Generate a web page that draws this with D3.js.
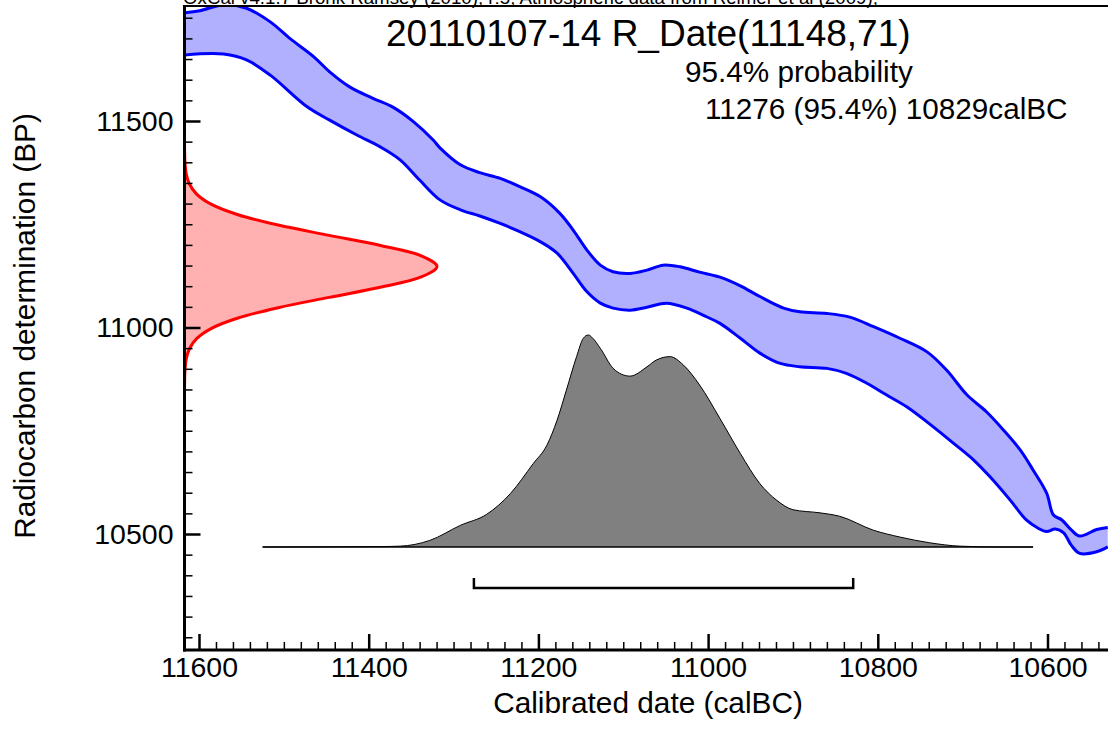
<!DOCTYPE html>
<html><head><meta charset="utf-8">
<script src="https://cdn.jsdelivr.net/npm/d3@7"></script>
<style>
body{margin:0;background:#fff}
svg{display:block}
text{font-family:"Liberation Sans",Arial,Helvetica,sans-serif;fill:#000}
</style>
</head><body>
<svg id="chart" width="1108" height="753"></svg>
<script>
// ---------- texts ----------
const headerText = "OxCal v4.1.7 Bronk Ramsey (2010); r:5; Atmospheric data from Reimer et al (2009);";
const titleText = "20110107-14 R_Date(11148,71)";
const probLabel = "95.4% probability";
const rangeLabel = "11276 (95.4%) 10829calBC";
const xAxisLabel = "Calibrated date (calBC)";
const yAxisLabel = "Radiocarbon determination (BP)";

// ---------- ticks ----------
const xTicks = [11600, 11400, 11200, 11000, 10800, 10600];
const yTicks = [10500, 11000, 11500];

// ---------- 95.4% range (calBC) ----------
const range95 = [11276, 10829];

// ---------- calibration curve band (upper / lower edge) ----------
const curveUpperYear = [11617,11599,11572,11544,11516,11493,11465,11446,11422,11395,11371,11347,11324,11316,11292,11269,11245,11222,11198,11175,11159,11143,11127,11112,11092,11072,11053,11033,11010,10986,10962,10939,10911,10892,10860,10833,10805,10774,10742,10719,10695,10672,10652,10632,10617,10601,10593,10583,10572,10562,10542,10529];
const curveUpperBP   = [11762,11767,11781,11773,11740,11700,11656,11619,11582,11555,11533,11498,11454,11435,11394,11375,11361,11341,11317,11277,11236,11188,11151,11135,11131,11139,11151,11147,11134,11122,11101,11075,11047,11038,11034,11025,11002,10974,10941,10897,10837,10796,10752,10703,10655,10599,10546,10534,10510,10495,10511,10516];
const curveLowerYear = [11617,11571,11544,11516,11473,11446,11414,11387,11363,11340,11316,11292,11269,11245,11222,11198,11178,11159,11143,11127,11112,11092,11072,11049,11025,11002,10986,10962,10939,10915,10892,10860,10837,10813,10790,10766,10735,10711,10687,10668,10644,10625,10611,10601,10591,10581,10572,10562,10542,10529];
const curveLowerBP   = [11660,11662,11648,11611,11535,11502,11466,11438,11406,11357,11309,11285,11270,11252,11232,11208,11180,11131,11087,11059,11047,11042,11049,11059,11047,11026,11010,10974,10938,10913,10905,10901,10889,10865,10837,10808,10760,10720,10679,10639,10582,10534,10514,10506,10512,10503,10473,10453,10457,10469];

// ---------- radiocarbon measurement distribution (BP, relative density) ----------
const radioBP   = [11448,11423,11398,11373,11348,11323,11298,11273,11248,11223,11198,11173,11148,11123,11098,11073,11048,11023,10998,10973,10948,10923,10898,10873,10848];
const radioDens = [0.0001,0.0006,0.002,0.0066,0.019,0.048,0.107,0.212,0.371,0.573,0.780,0.940,1.0,0.940,0.780,0.573,0.371,0.212,0.107,0.048,0.019,0.0066,0.002,0.0006,0.0001];

// ---------- calibrated distribution (calBC, relative probability) ----------
const calYear = [11525,11387,11363,11328,11292,11261,11233,11206,11190,11178,11167,11155,11147,11141,11136,11127,11112,11102,11092,11072,11061,11045,11029,11010,10986,10962,10939,10919,10900,10868,10845,10805,10774,10739,10703,10656,10617];
const calProb = [0,0.002,0.004,0.031,0.102,0.154,0.252,0.394,0.480,0.598,0.740,0.898,0.985,1.0,0.985,0.937,0.843,0.815,0.806,0.850,0.882,0.898,0.858,0.764,0.606,0.441,0.299,0.220,0.176,0.161,0.145,0.079,0.047,0.020,0.004,0,0];

// ---------- layout ----------
const W = 1108, H = 753;
const plotLeft = 184.5, plotTop = 6, plotBottom = 650, plotRight = 1120;

const svg = d3.select("#chart");

const x = d3.scaleLinear().domain([11600, 10600]).range([199, 1047.5]);
const y = d3.scaleLinear().domain([11500, 10500]).range([121, 534]);
const pScale = d3.scaleLinear().domain([0, 1]).range([547, 335]);
const rScale = d3.scaleLinear().domain([0, 1]).range([plotLeft, 437]);

svg.append("defs").append("clipPath").attr("id", "clip")
  .append("rect").attr("x", plotLeft).attr("y", plotTop)
  .attr("width", plotRight - plotLeft).attr("height", plotBottom - plotTop);

const g = svg.append("g").attr("clip-path", "url(#clip)");

// calibration band
const upper = curveUpperYear.map((d, i) => [d, curveUpperBP[i]]);
const lower = curveLowerYear.map((d, i) => [d, curveLowerBP[i]]);
const bandLine = d3.line().x(d => x(d[0])).y(d => y(d[1])).curve(d3.curveCatmullRom.alpha(0.5));
const bandPath = bandLine(upper) + bandLine(lower.slice().reverse()).replace(/^M/, "L") + "Z";
g.append("path").attr("d", bandPath).attr("fill", "#b0b0ff").attr("stroke", "none");
g.append("path").attr("d", bandLine(upper)).attr("fill", "none").attr("stroke", "#0000ff").attr("stroke-width", 3).attr("stroke-linejoin", "round");
g.append("path").attr("d", bandLine(lower)).attr("fill", "none").attr("stroke", "#0000ff").attr("stroke-width", 3).attr("stroke-linejoin", "round");

// radiocarbon distribution (red, on y-axis)
const radio = radioBP.map((d, i) => [d, radioDens[i]]);
g.append("path")
  .attr("d", d3.area().y(d => y(d[0])).x0(rScale(0)).x1(d => rScale(d[1])).curve(d3.curveCatmullRom.alpha(0.5))(radio))
  .attr("fill", "#ffb0b0");
g.append("path")
  .attr("d", d3.line().y(d => y(d[0])).x(d => rScale(d[1])).curve(d3.curveCatmullRom.alpha(0.5))(radio))
  .attr("fill", "none").attr("stroke", "#ff0000").attr("stroke-width", 3).attr("stroke-linejoin", "round");

// calibrated distribution (grey)
const cal = calYear.map((d, i) => [d, calProb[i]]);
g.append("path")
  .attr("d", d3.area().x(d => x(d[0])).y0(pScale(0)).y1(d => pScale(d[1])).curve(d3.curveMonotoneX)(cal))
  .attr("fill", "#808080").attr("stroke", "none");
g.append("path")
  .attr("d", d3.line().x(d => x(d[0])).y(d => pScale(d[1])).curve(d3.curveMonotoneX)(cal))
  .attr("fill", "none").attr("stroke", "#000").attr("stroke-width", 1);
g.append("line")
  .attr("x1", x(calYear[0])).attr("x2", x(calYear[calYear.length - 1]))
  .attr("y1", pScale(0)).attr("y2", pScale(0))
  .attr("stroke", "#000").attr("stroke-width", 1.5);

// 95.4% range bracket
const by = 588, bh = 10;
svg.append("path")
  .attr("d", `M${x(range95[0])},${by - bh}V${by}H${x(range95[1])}V${by - bh}`)
  .attr("fill", "none").attr("stroke", "#000").attr("stroke-width", 2.5);

// ---------- axes ----------
const xMinor = d3.range(10540, 11620, 20).filter(v => !xTicks.includes(v));
const yMinor = d3.range(10250, 11800, 50).filter(v => !yTicks.includes(v));

const xAxisG = svg.append("g").attr("transform", `translate(0,${plotBottom})`);
xAxisG.call(d3.axisBottom(x).tickValues(xMinor).tickSize(-8).tickFormat(""))
  .call(a => a.select(".domain").remove())
  .call(a => a.selectAll("line").attr("stroke", "#000").attr("stroke-width", 1.5));
const xMajG = svg.append("g").attr("transform", `translate(0,${plotBottom})`);
xMajG.call(d3.axisBottom(x).tickValues(xTicks).tickSizeInner(-16).tickSizeOuter(0).tickPadding(7).tickFormat(d3.format("d")))
  .call(a => a.select(".domain").remove())
  .call(a => a.selectAll("line").attr("stroke", "#000").attr("stroke-width", 2.5))
  .call(a => a.selectAll("text").attr("font-size", 28.5).attr("font-family", "Liberation Sans, Arial, sans-serif").attr("dy", "0.71em").attr("fill", "#000"));

const yAxisG = svg.append("g").attr("transform", `translate(${plotLeft},0)`);
yAxisG.call(d3.axisLeft(y).tickValues(yMinor).tickSize(-8).tickFormat(""))
  .call(a => a.select(".domain").remove())
  .call(a => a.selectAll("line").attr("stroke", "#000").attr("stroke-width", 1.5));
const yMajG = svg.append("g").attr("transform", `translate(${plotLeft},0)`);
yMajG.call(d3.axisLeft(y).tickValues(yTicks).tickSizeInner(-16).tickSizeOuter(0).tickPadding(11).tickFormat(d3.format("d")))
  .call(a => a.select(".domain").remove())
  .call(a => a.selectAll("line").attr("stroke", "#000").attr("stroke-width", 2.5))
  .call(a => a.selectAll("text").attr("font-size", 28.5).attr("font-family", "Liberation Sans, Arial, sans-serif").attr("fill", "#000"));

// axis lines and top border
svg.append("line").attr("x1", plotLeft).attr("x2", plotLeft).attr("y1", plotTop - 1).attr("y2", plotBottom + 1.5)
  .attr("stroke", "#000").attr("stroke-width", 3);
svg.append("line").attr("x1", plotLeft - 1.5).attr("x2", W).attr("y1", plotBottom).attr("y2", plotBottom)
  .attr("stroke", "#000").attr("stroke-width", 3);
svg.append("line").attr("x1", plotLeft).attr("x2", W).attr("y1", plotTop).attr("y2", plotTop)
  .attr("stroke", "#000").attr("stroke-width", 2);

// ---------- texts ----------
svg.append("text").attr("x", 183).attr("y", 4).attr("font-size", 18.7).text(headerText);
svg.append("text").attr("x", 386).attr("y", 46).attr("font-size", 37).text(titleText);
svg.append("text").attr("x", 685).attr("y", 82).attr("font-size", 29.7).text(probLabel);
svg.append("text").attr("x", 705).attr("y", 119).attr("font-size", 29.7).text(rangeLabel);
svg.append("text").attr("x", 648).attr("y", 713).attr("font-size", 29.8).attr("text-anchor", "middle").text(xAxisLabel);
svg.append("text").attr("transform", "translate(35,326) rotate(-90)").attr("font-size", 29.8)
  .attr("text-anchor", "middle").text(yAxisLabel);
</script>
</body></html>
